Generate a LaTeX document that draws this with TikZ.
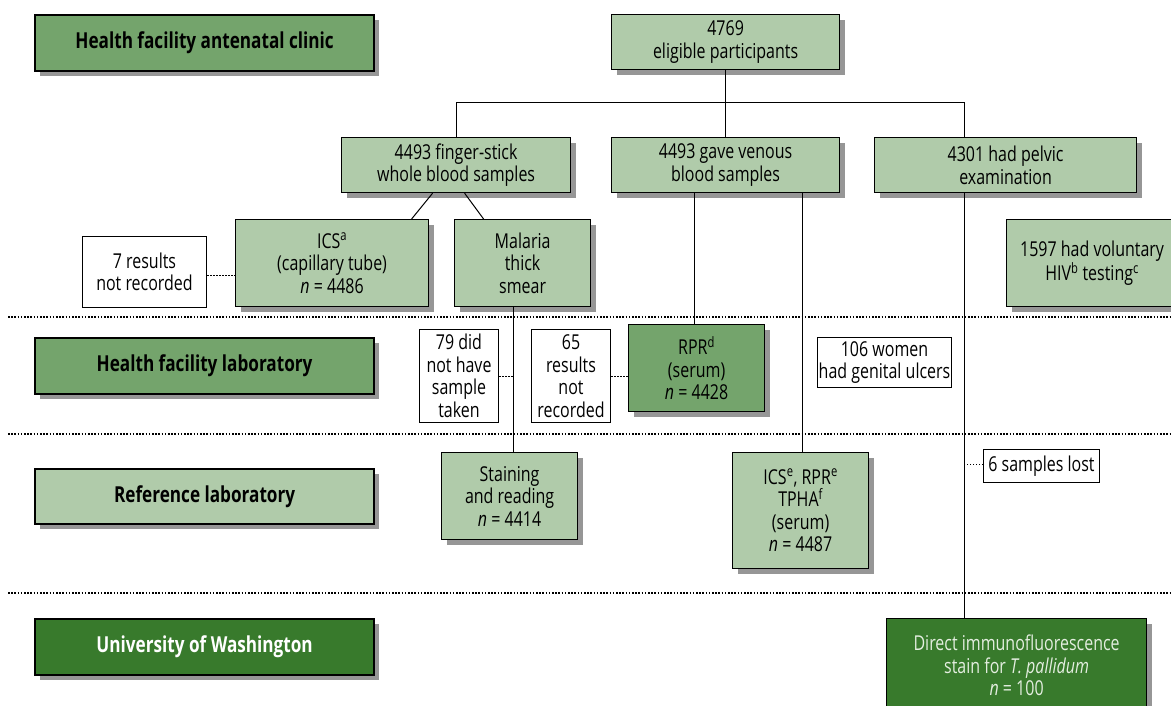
\documentclass[tikz,border=0pt]{standalone}
\usepackage{fontspec}
\setmainfont{Open Sans}[FakeStretch=0.78]
\usetikzlibrary{shadows,calc}
\definecolor{lightg}{RGB}{176,203,170}
\definecolor{midg}{RGB}{116,164,108}
\definecolor{darkg}{RGB}{56,122,44}
\definecolor{shd}{RGB}{150,150,150}
\definecolor{diftext}{RGB}{228,238,224}
\newcommand{\bx}[7]{%
  \node[#2, anchor=north west, minimum width={(#5-#3)*1pt}, minimum height={(#6-#4)*1pt}] (#1) at (#3,#4) {#7};}
\newcommand{\nn}{\textit{n}}
\begin{document}
\begin{tikzpicture}[x=1pt,y=-1pt,
  base/.style={draw=black, line width=1.2pt, inner sep=0pt, align=center,
    font=\fontsize{20.5}{22.5}\selectfont},
  shad/.style={drop shadow={shadow xshift=5pt, shadow yshift=-5pt, fill=shd, opacity=1}},
  light/.style={base, fill=lightg, shad},
  mid/.style={base, fill=midg, shad},
  dark/.style={base, fill=darkg, shad},
  white/.style={base, fill=white, line width=1pt},
  lab/.style={line width=2.2pt, font=\fontsize{22}{24}\selectfont\bfseries},
  conn/.style={draw=black, line width=1pt},
  dots/.style={draw=black, line width=1pt, dash pattern=on 1.5pt off 1.5pt},
  sep/.style={draw=black, line width=1.6pt, dash pattern=on 1.6pt off 1.6pt}]
\useasboundingbox (0,0) rectangle (1171,705);
\clip (0,0) rectangle (1171,705);
% separators
\draw[sep] (8,317) -- (1171,317);
\draw[sep] (8,434) -- (1171,434);
\draw[sep] (8,593) -- (1171,593);
% lane labels
\bx{lab1}{mid,lab}{34}{14}{373}{70}{Health facility antenatal clinic}
\bx{lab2}{mid,lab}{34}{337}{373}{393}{Health facility laboratory}
\bx{lab3}{light,lab}{34}{468}{373}{523}{Reference laboratory}
\bx{lab4}{dark,lab,text=white}{34}{618}{373}{674}{University of Washington}
% flow boxes
\bx{elig}{light}{611}{14}{839}{69}{4769\\eligible participants}
\bx{finger}{light}{341}{137}{570}{192}{4493 finger-stick\\whole blood samples}
\bx{venous}{light}{611}{137}{839}{192}{4493 gave venous\\blood samples}
\bx{pelvic}{light}{874}{137}{1136}{192}{4301 had pelvic\\examination}
\bx{ics}{light}{235}{219}{428}{306}{ICS\textsuperscript{a}\\(capillary tube)\\\nn{} = 4486}
\bx{malaria}{light}{454}{219}{590}{306}{Malaria\\thick\\smear}
\bx{hiv}{light}{1006}{219}{1177}{306}{1597 had voluntary\\HIV\textsuperscript{b} testing\textsuperscript{c}}
\bx{seven}{white}{82}{236}{206}{307}{7 results\\not recorded}
\bx{did}{white}{419}{329}{498}{422}{79 did\\not have\\sample\\taken}
\bx{res}{white}{531}{329}{610}{422}{65\\results\\not\\recorded}
\bx{rpr}{mid}{628}{324}{764}{411}{RPR\textsuperscript{d}\\(serum)\\\nn{} = 4428}
\bx{women}{white}{817}{337}{951}{387}{106 women\\had genital ulcers}
\bx{stain}{light}{441}{452}{577}{539}{Staining\\and reading\\\nn{} = 4414}
\bx{icsrpr}{light}{732}{452}{868}{568}{ICS\textsuperscript{e}, RPR\textsuperscript{e}\\TPHA\textsuperscript{f}\\(serum)\\\nn{} = 4487}
\bx{lost}{white}{983}{449}{1099}{482}{6 samples lost}
\bx{dif}{dark,text=diftext}{886}{618}{1146}{712}{Direct immunofluorescence\\stain for \textit{T. pallidum}\\\nn{} = 100}
% branch positions
\coordinate (bar) at (0,102);
\coordinate (px) at (964,0);
\coordinate (vx1) at (694,0);
\coordinate (vx2) at (802,0);
\coordinate (mx) at (513,0);
% connectors
\draw[conn] (elig.south -| venous.north) -- (venous.north);
\draw[conn] (finger.north) |- (bar -| px) -- (pelvic.north -| px);
\draw[conn] ($(finger.south)+(-23.5,0)$) -- ($(ics.north)+(79.5,0)$);
\draw[conn] ($(finger.south)+(8.5,0)$) -- ($(malaria.north)+(-39,0)$);
\draw[conn] (venous.south -| vx1) -- (rpr.north -| vx1);
\draw[conn] (venous.south -| vx2) -- (icsrpr.north -| vx2);
\draw[conn] (pelvic.south -| px) -- (dif.north -| px);
\draw[conn] (malaria.south -| mx) -- (stain.north -| mx);
% dotted side links
\draw[dots] ($(seven.east)+(0,3)$) -- ($(seven.east -| ics.west)+(0,3)$);
\draw[dots] (did.east) -- (did.east -| mx);
\draw[dots] (res.east) -- (res.east -| rpr.west);
\draw[dots] ($(lost.west)+(0,-2)$) -- ($(lost.west -| px)+(0,-2)$);
\end{tikzpicture}
\end{document}
